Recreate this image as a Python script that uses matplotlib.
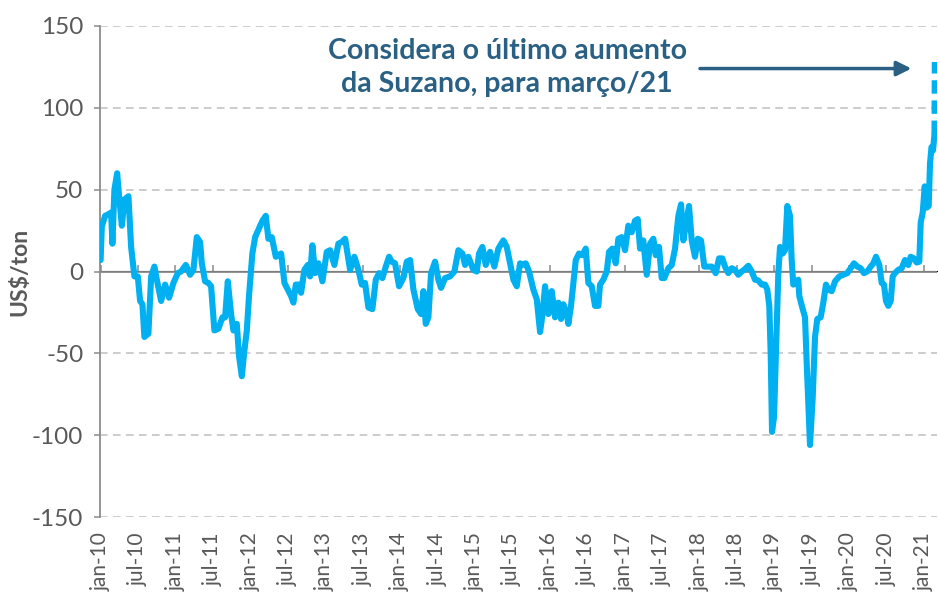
import matplotlib
matplotlib.use('Agg')
import matplotlib.pyplot as plt

# months since jan-2010
months = [0.0, 0.19, 0.72, 1.25, 1.68, 1.89, 2.21, 2.65, 2.97, 3.40, 3.82, 4.46, 4.89, 5.42, 5.96,
          6.33, 6.70, 7.02, 7.66, 8.10, 8.62, 9.01, 9.70, 10.34, 10.98, 11.67, 12.38, 12.90, 13.66,
          14.35, 14.88, 15.42, 15.95, 16.22, 16.75, 17.28, 17.71, 18.24, 18.88, 19.53, 19.96, 20.39,
          20.92, 21.29, 21.83, 22.20, 22.64, 23.00, 23.44, 23.81, 24.33, 24.77, 25.30, 25.94, 26.48,
          26.90, 27.44, 28.09, 28.94, 29.47, 30.01, 30.54, 30.91, 31.29, 31.82, 32.14, 32.67, 33.22,
          33.58, 33.95, 34.39, 34.92, 35.56, 36.26, 36.79, 37.48, 38.12, 38.67, 39.20, 40.00, 40.69,
          41.33, 41.87, 42.40, 42.93, 43.57, 44.12, 44.65, 45.18, 45.72, 46.25, 46.68, 47.21, 47.85,
          48.54, 49.09, 49.62, 50.15, 50.85, 51.38, 51.75, 52.13, 52.55, 52.98, 53.62, 54.15, 54.58,
          55.23, 56.03, 56.72, 57.36, 58.00, 58.43, 58.96, 59.76, 60.31, 60.68, 61.21, 61.75, 62.44,
          63.13, 63.77, 64.57, 65.12, 65.65, 66.18, 66.72, 67.25, 67.62, 68.16, 68.69, 69.38, 69.93,
          70.46, 70.82, 71.26, 71.79, 72.33, 72.86, 73.39, 73.82, 74.19, 74.74, 75.00, 75.42, 76.18,
          76.71, 77.24, 77.78, 78.20, 78.74, 79.27, 79.80, 80.07, 80.60, 81.15, 81.52, 82.05, 82.59,
          83.01, 83.55, 84.08, 84.61, 85.15, 85.68, 86.12, 86.49, 87.01, 87.56, 88.09, 88.62, 89.00,
          89.53, 89.96, 90.38, 91.02, 91.57, 92.10, 92.63, 93.06, 93.43, 93.81, 94.34, 94.77, 95.30,
          95.74, 96.26, 96.79, 97.43, 97.98, 98.62, 99.15, 99.68, 100.11, 100.64, 101.19, 101.72,
          102.24, 102.79, 103.16, 103.85, 104.39, 104.92, 105.45, 106.00, 106.52, 106.89, 107.21,
          107.44, 107.65, 107.97, 108.29, 108.66, 108.93, 109.36, 109.73, 110.10, 110.53, 110.80,
          111.06, 111.49, 111.86, 112.02, 112.57, 112.94, 113.21, 113.47, 113.74, 114.17, 114.54,
          114.91, 115.45, 115.87, 116.30, 116.67, 117.22, 117.75, 118.44, 119.08, 119.72, 120.26,
          120.79, 121.32, 121.86, 122.39, 122.92, 123.47, 123.89, 124.32, 124.85, 125.23, 125.60,
          125.92, 126.29, 126.68, 127.00, 127.36, 127.89, 128.44, 128.97, 129.50, 129.88, 130.41,
          130.84, 131.26, 131.49, 131.81, 132.13, 132.45, 132.77, 132.98, 133.22, 133.46, 133.70]

values = [7, 27.5, 34, 35, 36, 17, 50, 60, 46, 28, 44, 46, 15, -3, -3,
          -18, -20, -40, -38, -3, 3, -5, -18, -8, -16, -7, -1, 0, 4,
          -2, 1, 21, 18, 5, -6, -7, -9, -36, -35, -28, -28, -6,
          -26, -36, -32, -52, -64, -50, -36, -14, 11, 21, 25.5, 31, 34,
          20, 21, 9, 11, -7, -11, -15, -19, -8, -8, -13, 1, 4,
          -3, 16, -1, 5, -6, 12, 13, 4, 17, 18, 20, 1, 9,
          1, -8, -7, -22, -23, -5, -1, -4, 3, 9, 6, 5, -9,
          -4, 6, 7, -11, -23, -26, -12, -32, -28, -1, 6, -5, -10,
          -4, -3, 0, 13, 11, 4, 9, 1, 0, 11, 15, 4, 12,
          3, 14, 19, 15, 5, -5, -9, 5, 4, 5, 0, -11, -17,
          -37, -27, -9, -26, -12, -28, -19, -29, -20, -26, -32, -21, 7,
          11, 10, 14, -7, -9, -21, -21, -8, -5, 0, 12, 14, 5,
          20, 21, 13, 28, 24, 31, 32, 14, 19, -2, 17, 20, 10,
          15, -4, -4, 2, 4, 14, 34, 41, 19, 28, 40, 19, 9,
          20, 19, 3, 3, 3, -1, 8, 8, 3, -1, 2, 1,
          -2, 0, 1, 3.5, 0, -5, -5.5, -8, -8, -11, -21,
          -51, -98, -89, -48, -1, 15, 11, 13, 40, 34, 7,
          -8, -6, -5, -15, -23, -28, -56, -81, -106, -77, -40,
          -29, -28, -19, -8, -11, -12, -6, -3, -2, -1, 2,
          5, 3, 2, -1, 0, 3, 5, 9, 4, -7, -8,
          -18, -21, -18, -3, -1, 1, 2, 7, 4, 9, 8,
          5.5, 6, 30, 36, 52, 39, 40, 66, 76, 74, 84]

# last raise (march/21), drawn dashed
proj_months = [133.70, 133.75]
proj_values = [84, 128]

tick_pos = list(range(0, 133, 6))
tick_labels = ['jan-10', 'jul-10', 'jan-11', 'jul-11', 'jan-12', 'jul-12', 'jan-13', 'jul-13',
               'jan-14', 'jul-14', 'jan-15', 'jul-15', 'jan-16', 'jul-16', 'jan-17', 'jul-17',
               'jan-18', 'jul-18', 'jan-19', 'jul-19', 'jan-20', 'jul-20', 'jan-21']
y_ticks = [-150, -100, -50, 0, 50, 100, 150]

BLUE = '#00B0F0'
NOTE = '#2A6083'
GRAY = '#595959'

plt.rcParams['font.family'] = ['Lato', 'DejaVu Sans']

fig = plt.figure(figsize=(9.38, 5.99), dpi=100)
ax = fig.add_axes([100 / 938, 82 / 599, 837 / 938, 491 / 599])

ax.plot(months, values, color=BLUE, lw=4.4, solid_joinstyle='round', solid_capstyle='round', zorder=3)
ax.plot(proj_months, proj_values, color=BLUE, lw=4.4, linestyle=(0, (2.2, 1.1)), zorder=3)

ax.set_xlim(-0.1, 134.1)
ax.set_ylim(-150, 150)

# grid
for v in y_ticks:
    if v == 0:
        ax.axhline(v, color='#8C8C8C', lw=1.3, zorder=1)
    else:
        ax.axhline(v, color='#BFBFBF', lw=1.1, linestyle=(0, (5, 3.5)), zorder=1)

for s in ['top', 'right', 'bottom']:
    ax.spines[s].set_visible(False)
ax.spines['left'].set_color('#8C8C8C')
ax.spines['left'].set_linewidth(1.3)

ax.set_yticks(y_ticks)
ax.set_yticklabels([str(v) for v in y_ticks])
ax.tick_params(axis='y', direction='out', length=4, width=1.1, color='#8C8C8C',
               labelsize=17.5, labelcolor=GRAY, pad=8)
ax.set_ylabel('US$/ton', fontsize=16.5, fontweight='bold', color=GRAY)
ax.yaxis.set_label_coords(-0.083, 0.5)

ax.set_xticks(tick_pos)
ax.set_xticklabels(tick_labels, rotation=90, va='top', ha='center')
ax.tick_params(axis='x', length=0, labelsize=15, labelcolor=GRAY, pad=11)

# small tick marks on the zero line
sec = ax.secondary_xaxis(0.5)
sec.set_xticks(tick_pos)
sec.set_xticklabels([''] * len(tick_pos))
sec.spines['bottom'].set_visible(False)
sec.tick_params(axis='x', direction='out', length=4, width=1.1, color='#8C8C8C')

ax.text(65.2, 124.5, 'Considera o último aumento\nda Suzano, para março/21', ha='center', va='center',
        fontsize=20.5, fontweight='bold', color=NOTE, linespacing=1.33, zorder=4)
ax.annotate('', xy=(130.0, 124), xytext=(96.1, 124),
            arrowprops=dict(arrowstyle='-|>', color=NOTE, lw=2.5, mutation_scale=22,
                            shrinkA=0, shrinkB=0), zorder=4)

fig.savefig('out.png', dpi=100)
